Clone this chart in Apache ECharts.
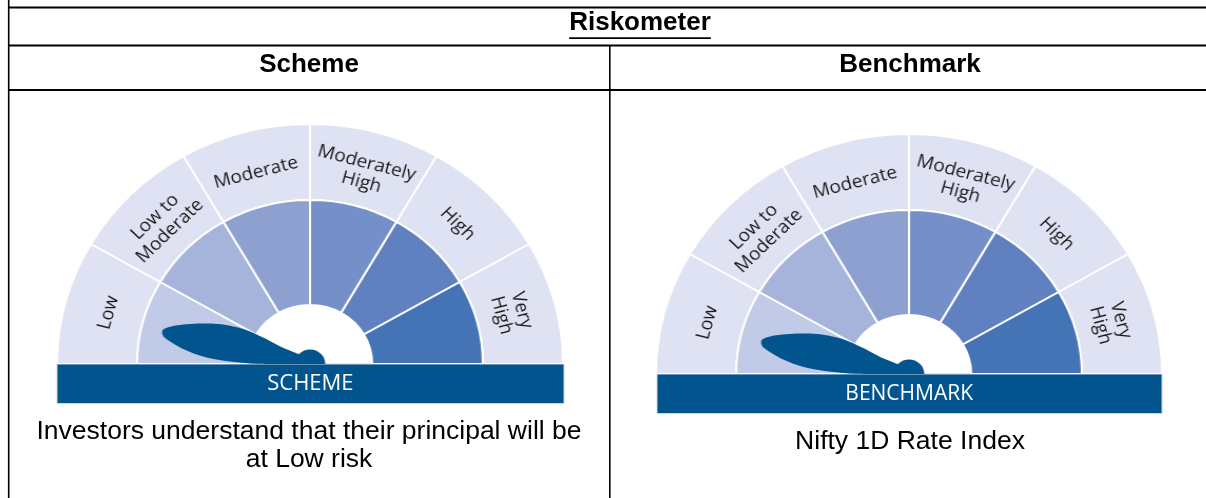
<!DOCTYPE html>
<html>
<head>
<meta charset="utf-8">
<script src="https://cdn.jsdelivr.net/npm/echarts@6/dist/echarts.min.js"></script>
<style>
html,body{margin:0;padding:0;background:#fff;}
#main{position:absolute;left:0;top:0;width:1206px;height:498px;}
.g{position:absolute;width:520px;height:250px;transform:scaleX(1.054);transform-origin:260px 0;}
</style>
</head>
<body>
<div id="main"></div>
<div id="g0" class="g" style="left:50.4px;top:114px;"></div>
<div id="g1" class="g" style="left:649.2px;top:124px;"></div>
<script>
// ---------- data ----------
const tableTitle = 'Riskometer';
const columnTitles = ['Scheme', 'Benchmark'];
const riskLevels = ['Low', 'Low to\nModerate', 'Moderate', 'Moderately\nHigh', 'High', 'Very\nHigh'];
const needleValues = [0.44, 0.44];          // needle position on the 0–6 risk scale (Low)
const bandNames = ['SCHEME', 'BENCHMARK'];
const descriptions = [
  'Investors understand that their principal will be\nat Low risk',
  'Nifty 1D Rate Index'
];

// ---------- styles ----------
const ringColors = ['#c1cae6', '#a6b4dc', '#8ea0d0', '#7590c8', '#6080c0', '#4474b5'];
const outerColor = '#dee2f2';
const navy = '#02548f';
const NEEDLE = 'path://M16 0C22 0 30 25 34 45C36 55 36 62 36 70C36 85 30 105 26 120L21 150L11 150L6 105C3 90 0 70 0 50C0 30 6 12 10 4C12 1 14 0 16 0Z';

const barBoxes = [
  {x: 57, y: 364, w: 507, h: 39.5, cx: 310.4, font: 22, descY: 418},
  {x: 657, y: 374, w: 505, h: 39.5, cx: 909.2, font: 21, descY: 428}
];
const colCenters = [309, 910];

function gaugeOption(k) {
  const n = riskLevels.length;
  const C = [260, 250];
  const hidden = {name: '', value: n, itemStyle: {color: 'rgba(0,0,0,0)', borderWidth: 0}, label: {show: false}};
  return {
    animation: false,
    series: [
      {
        type: 'pie', center: C, radius: [164, 240], startAngle: 180, clockwise: true, z: 2,
        silent: true, animation: false, emphasis: {disabled: true},
        itemStyle: {color: outerColor, borderColor: '#fff', borderWidth: 2},
        label: {show: false}, labelLine: {show: false},
        data: riskLevels.map(name => ({name, value: 1})).concat([hidden])
      },
      {
        type: 'pie', center: C, radius: [59, 164], startAngle: 180, clockwise: true, z: 2,
        silent: true, animation: false, emphasis: {disabled: true},
        itemStyle: {borderColor: '#fff', borderWidth: 2},
        label: {show: false}, labelLine: {show: false},
        data: riskLevels.map((name, i) => ({name, value: 1, itemStyle: {color: ringColors[i]}})).concat([hidden])
      },
      {
        // label carrier: transparent slices whose mid-radius sets where the names sit
        type: 'pie', center: C, radius: [150, 240], startAngle: 180, clockwise: true, z: 3,
        silent: true, animation: false, avoidLabelOverlap: false, emphasis: {disabled: true},
        itemStyle: {color: 'rgba(0,0,0,0)', borderWidth: 0},
        label: {show: true, position: 'inside', rotate: 'tangential', color: '#1c1c1c',
                fontFamily: 'Open Sans', fontSize: 18, lineHeight: 20, formatter: '{b}'},
        labelLine: {show: false},
        data: riskLevels.map(name => ({name, value: 1})).concat([hidden])
      },
      {
        type: 'gauge', center: C, radius: 164, startAngle: 180, endAngle: 0, z: 6,
        min: 0, max: n, splitNumber: n, animation: false, silent: true,
        axisLine: {show: false}, axisTick: {show: false}, splitLine: {show: false}, axisLabel: {show: false},
        progress: {show: false},
        pointer: {show: true, icon: NEEDLE, length: 144, width: 36, offsetCenter: [2, 0], itemStyle: {color: navy}},
        anchor: {show: true, showAbove: true, size: 29, itemStyle: {color: navy}},
        title: {show: false}, detail: {show: false},
        data: [{value: needleValues[k]}]
      }
    ]
  };
}

// text measure for underline
const ctx = document.createElement('canvas').getContext('2d');
ctx.font = 'bold 26px "Liberation Sans"';
const titleW = ctx.measureText(tableTitle).width;
const titleX = 640;

const graphics = [];
function line(x1, y1, x2, y2, w) {
  graphics.push({type: 'line', z: 100, silent: true, shape: {x1, y1, x2, y2}, style: {stroke: '#000', lineWidth: w}});
}
line(8.7, 0, 8.7, 498, 1.6);
line(8, 7.5, 1206, 7.5, 2);
line(8, 45.5, 1206, 45.5, 2);
line(8, 90, 1206, 90, 2);
line(609.8, 45, 609.8, 498, 1.6);

graphics.push({type: 'text', z: 100, x: titleX, y: 23, style: {text: tableTitle, fontFamily: 'Liberation Sans', fontWeight: 'bold', fontSize: 26, fill: '#000', align: 'center', verticalAlign: 'middle'}});
graphics.push({type: 'line', z: 100, shape: {x1: titleX - titleW / 2, y1: 38.2, x2: titleX + titleW / 2, y2: 38.2}, style: {stroke: '#000', lineWidth: 1.8}});

columnTitles.forEach((t, i) => {
  graphics.push({type: 'text', z: 100, x: colCenters[i], y: 65, style: {text: t, fontFamily: 'Liberation Sans', fontWeight: 'bold', fontSize: 26, fill: '#000', align: 'center', verticalAlign: 'middle'}});
});

barBoxes.forEach((b, i) => {
  graphics.push({type: 'rect', z: 100, shape: {x: b.x, y: b.y, width: b.w, height: b.h}, style: {fill: navy, stroke: '#d4d4d4', lineWidth: 1}});
  graphics.push({type: 'text', z: 101, x: b.cx, y: b.y + b.h / 2, style: {text: bandNames[i], fontFamily: 'Open Sans', fontSize: b.font, fill: '#fff', align: 'center', verticalAlign: 'middle'}});
  graphics.push({type: 'text', z: 100, x: colCenters[i], y: b.descY, style: {text: descriptions[i], fontFamily: 'Liberation Sans', fontSize: 26.5, lineHeight: 28, fill: '#000', align: 'center', verticalAlign: 'top'}});
});

const main = echarts.init(document.getElementById('main'), null, {renderer: 'canvas'});
main.setOption({animation: false, backgroundColor: '#fff', graphic: {elements: graphics}});

[0, 1].forEach(k => {
  const c = echarts.init(document.getElementById('g' + k), null, {renderer: 'canvas'});
  c.setOption(gaugeOption(k));
});
</script>
</body>
</html>
